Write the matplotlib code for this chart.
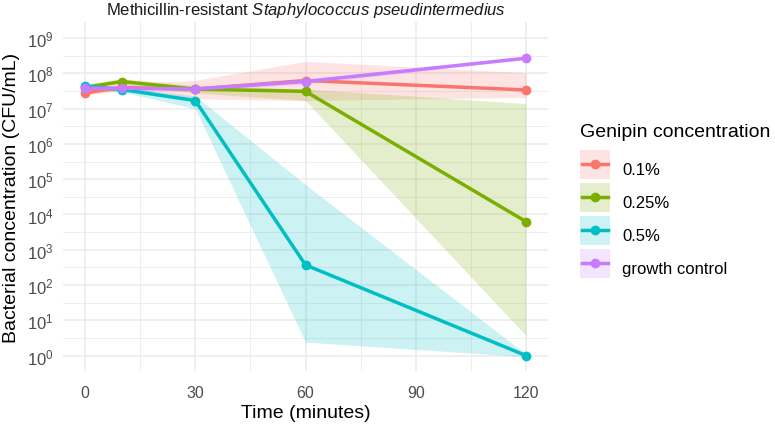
import matplotlib
matplotlib.use("Agg")
import matplotlib.pyplot as plt
import numpy as np
from matplotlib.patches import Rectangle
from matplotlib.lines import Line2D
from matplotlib.legend_handler import HandlerBase
from matplotlib.ticker import FixedLocator, LogFormatterMathtext, NullFormatter

plt.rcParams['font.family'] = ['Liberation Sans', 'DejaVu Sans']
plt.rcParams['mathtext.fontset'] = 'custom'
plt.rcParams['mathtext.rm'] = 'Liberation Sans'
plt.rcParams['mathtext.it'] = 'Liberation Sans:italic'
plt.rcParams['mathtext.bf'] = 'Liberation Sans:bold'

# ---- data (CFU/mL) ----
times = [0, 10, 30, 60, 120]
groups = ["0.1%", "0.25%", "0.5%", "growth control"]
colors = ["#F8766D", "#7CAE00", "#00BFC4", "#C77CFF"]

mean_01 = [2.8e7, 4.0e7, 3.6e7, 6.3e7, 3.4e7]
low_01 = [2.4e7, 3.2e7, 1.9e7, 1.7e7, 2.1e7]
high_01 = [3.4e7, 5.2e7, 6.3e7, 2.2e8, 1.05e8]

mean_025 = [4.0e7, 5.9e7, 3.6e7, 3.1e7, 6.3e3]
low_025 = [3.2e7, 4.7e7, 2.8e7, 1.7e7, 3.7]
high_025 = [5.0e7, 7.2e7, 4.5e7, 3.6e7, 1.4e7]

mean_05 = [4.4e7, 3.5e7, 1.7e7, 3.7e2, 1.0]
low_05 = [3.5e7, 3.0e7, 1.0e7, 2.4, 0.93]
high_05 = [5.2e7, 4.0e7, 2.3e7, 7.0e4, 1.1]

mean_gc = [3.8e7, 3.8e7, 3.6e7, 5.9e7, 2.7e8]
low_gc = [3.2e7, 3.3e7, 3.2e7, 5.0e7, 2.5e8]
high_gc = [4.5e7, 4.3e7, 4.2e7, 7.0e7, 2.95e8]

means = [mean_01, mean_025, mean_05, mean_gc]
lows = [low_01, low_025, low_05, low_gc]
highs = [high_01, high_025, high_05, high_gc]

x_ticks = [0, 30, 60, 90, 120]
x_minor = [15, 45, 75, 105]
y_major = [10.0 ** k for k in range(0, 10)]
y_minor = [10.0 ** (k + 0.5) for k in range(-1, 10)]
x_limits = (-6, 126)
y_limits = (10 ** -0.43, 10 ** 9.45)

title = r"Methicillin-resistant $\mathit{Staphylococcus\ pseudintermedius}$"
xlabel = "Time (minutes)"
ylabel = "Bacterial concentration (CFU/mL)"
legend_title = "Genipin concentration"

LINE_W = 2.5
MARK_S = 6


class KeyHandler(HandlerBase):
    """ggplot-like key: pale ribbon square with a line and a point centred on it."""

    def create_artists(self, legend, orig_handle, xdescent, ydescent, width, height,
                       fontsize, trans):
        color = orig_handle
        yc = (height - ydescent) / 2.0
        kh = 20.9  # key height in points (~29 px)
        rect = Rectangle((-xdescent, yc - kh / 2), width, kh, facecolor=color,
                         alpha=0.2, edgecolor="none", transform=trans)
        line = Line2D([-xdescent + 1.5, -xdescent + width - 1.5], [yc, yc], color=color,
                      lw=LINE_W, transform=trans)
        pt = Line2D([-xdescent + width / 2], [yc], ls="none", marker="o", ms=MARK_S,
                    color=color, transform=trans)
        return [rect, line, pt]


# ---- figure ----
fig = plt.figure(figsize=(7.75, 4.27), dpi=100)
ax = fig.add_axes([63 / 775, 1 - 371.7 / 427, 485 / 775, 348.4 / 427])
ax.set_yscale("log")
ax.set_xlim(*x_limits)
ax.set_ylim(*y_limits)

ax.xaxis.set_major_locator(FixedLocator(x_ticks))
ax.xaxis.set_minor_locator(FixedLocator(x_minor))
ax.yaxis.set_major_locator(FixedLocator(y_major))
ax.yaxis.set_minor_locator(FixedLocator(y_minor))
ax.yaxis.set_major_formatter(LogFormatterMathtext())
ax.yaxis.set_minor_formatter(NullFormatter())

ax.grid(True, which="major", color="#EBEBEB", lw=1.1, zorder=0)
ax.grid(True, which="minor", color="#EBEBEB", lw=0.6, zorder=0)
ax.set_axisbelow(True)
for s in ax.spines.values():
    s.set_visible(False)
ax.tick_params(which="both", length=0)
ax.tick_params(axis="x", labelsize=11.5, pad=10, colors="#4D4D4D", labelcolor="#4D4D4D")
ax.tick_params(axis="y", labelsize=12, pad=6.5, colors="#4D4D4D", labelcolor="#4D4D4D")

for m, lo, hi, c in zip(means, lows, highs, colors):
    ax.fill_between(times, lo, hi, color=c, alpha=0.2, lw=0, zorder=1)
for m, c in zip(means, colors):
    ax.plot(times, m, color=c, lw=LINE_W, zorder=2, solid_capstyle="butt")
for m, c in zip(means, colors):
    ax.plot(times, m, ls="none", marker="o", ms=MARK_S, color=c, zorder=3)

ax.set_title(title, fontsize=12, pad=6, color="#1A1A1A")
ax.set_xlabel(xlabel, fontsize=14, labelpad=3, color="black")
ax.set_ylabel(ylabel, fontsize=14, labelpad=5, color="black")

# legend (title drawn separately so that its spacing matches ggplot)
fig.text(580 / 775, 1 - 137 / 427, legend_title, fontsize=14, ha="left", va="baseline",
         color="black")
leg = fig.legend(colors, groups, handler_map={str: KeyHandler()},
                 loc="upper left", bbox_to_anchor=(580 / 775, 1 - 155.5 / 427),
                 frameon=False, fontsize=12,
                 handlelength=1.8, handleheight=2.36, labelspacing=0.2, handletextpad=0.75,
                 borderpad=0, borderaxespad=0, alignment="left")

fig.savefig("out.png", dpi=100)
